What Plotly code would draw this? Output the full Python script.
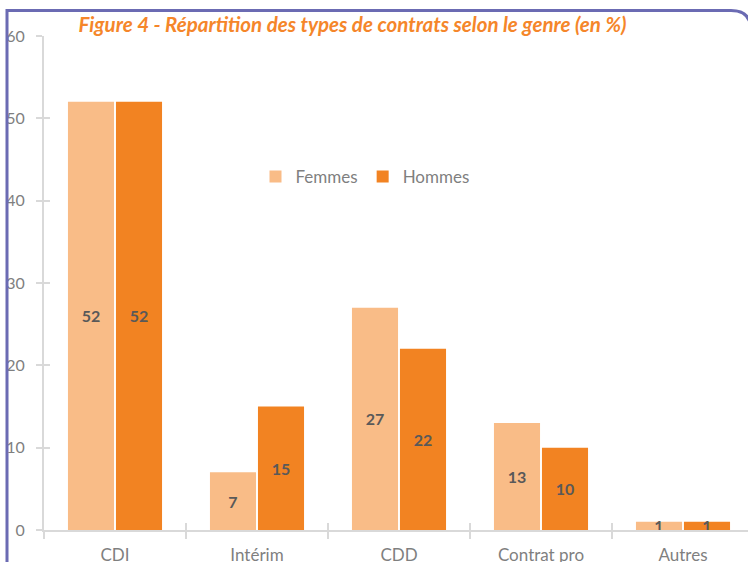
import plotly.graph_objects as go

categories = ["CDI", "Intérim", "CDD", "Contrat pro", "Autres"]
femmes = [52, 7, 27, 13, 1]
hommes = [52, 15, 22, 10, 1]
y_ticks = [0, 10, 20, 30, 40, 50, 60]
title_text = "Figure 4 - Répartition des types de contrats selon le genre (en %)"

W, H = 748, 562
L, R, T, B = 44, 0, 36, 32
PW, PH = W - L - R, H - T - B

def px_x(p):
    return (p - L) / PW

def px_y(p):
    return (H - B - p) / PH

FONT = "Lato, Carlito, Calibri, sans-serif"
GRAY = "#7F7F7F"
AXIS = "#D9D9D9"
LABEL = "#595959"

fig = go.Figure()
fig.add_trace(go.Bar(
    name="Femmes", x=categories, y=femmes, marker=dict(color="#F9BC87", line=dict(width=0)),
    text=[str(v) for v in femmes], textposition="inside", insidetextanchor="middle",
    textangle=0, cliponaxis=False,
    textfont=dict(family=FONT, size=16, color=LABEL, weight="bold"),
    hoverinfo="skip",
))
fig.add_trace(go.Bar(
    name="Hommes", x=categories, y=hommes, marker=dict(color="#F28322", line=dict(width=0)),
    text=[str(v) for v in hommes], textposition="inside", insidetextanchor="middle",
    textangle=0, cliponaxis=False,
    textfont=dict(family=FONT, size=16, color=LABEL, weight="bold"),
    hoverinfo="skip",
))
# dummy trace to draw overlay axes for crossing tick marks
fig.add_trace(go.Scatter(x=[None], y=[None], xaxis="x2", yaxis="y2",
                         showlegend=False, hoverinfo="skip"))

xmax = -0.5 + len(categories) * (PW / 710.0)

fig.update_layout(
    width=W, height=H, autosize=False,
    margin=dict(l=L, r=R, t=T, b=B, pad=0),
    paper_bgcolor="white", plot_bgcolor="white",
    barmode="group", bargap=0.324, bargroupgap=0.04,
    uniformtext=dict(minsize=16, mode="show"),
    title=dict(text=title_text, x=352.5 / W, xanchor="center", y=1 - 25 / H, yanchor="middle",
               font=dict(family=FONT, size=20.5, color="#F5862A", weight="bold", style="italic")),
    legend=dict(orientation="h", x=px_x(365), xanchor="center", y=px_y(177), yanchor="middle",
                font=dict(family=FONT, size=17, color=GRAY), bgcolor="rgba(0,0,0,0)"),
    xaxis=dict(type="category", range=[-0.5, xmax], tickson="boundaries", automargin=False,
               showline=True, linecolor=AXIS, linewidth=2,
               ticks="outside", ticklen=7, tickwidth=2, tickcolor=AXIS,
               showgrid=False, zeroline=False, ticklabelstandoff=9,
               tickfont=dict(family=FONT, size=17, color=GRAY)),
    yaxis=dict(range=[0, 60], tickvals=y_ticks, showline=True, linecolor=AXIS, linewidth=2,
               ticks="outside", ticklen=6, tickwidth=2, tickcolor=AXIS, automargin=False,
               showgrid=False, zeroline=False, ticklabelstandoff=8,
               tickfont=dict(family=FONT, size=16, color=GRAY)),
    xaxis2=dict(overlaying="x", anchor="y", range=[-0.5, xmax], automargin=False,
                tickvals=[i + 0.5 for i in range(-1, len(categories))],
                ticks="inside", ticklen=7, tickwidth=2, tickcolor=AXIS,
                showticklabels=False, showline=False, showgrid=False, zeroline=False),
    yaxis2=dict(overlaying="y", anchor="x", side="left", range=[0, 60], tickvals=y_ticks,
                ticks="inside", ticklen=6, tickwidth=2, tickcolor=AXIS, automargin=False,
                showticklabels=False, showline=False, showgrid=False, zeroline=False),
)

# decorative frame with rounded top-right corner
xl, xr, yt, yb, r = px_x(7), px_x(751), px_y(10.5), px_y(620), 20
path = (f"M {xl},{yb} L {xl},{yt} L {px_x(751 - r)},{yt} "
        f"Q {xr},{yt} {xr},{px_y(10.5 + r)} L {xr},{yb}")
fig.add_shape(type="path", path=path, xref="paper", yref="paper",
              line=dict(color="#6B6BB3", width=3), layer="above")

fig.write_html("out.html", config={"displayModeBar": False},
               post_script="document.body.style.margin='0px';document.body.style.overflow='hidden';")
